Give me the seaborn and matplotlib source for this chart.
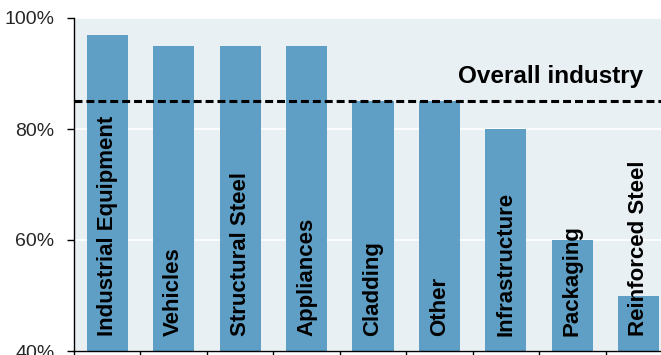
import numpy as np
import pandas as pd
import matplotlib
matplotlib.use('Agg')
import matplotlib.pyplot as plt
import seaborn as sns

# Daten
kategorien = ['Industrial Equipment', 'Vehicles', 'Structural Steel', 'Appliances',
              'Cladding', 'Other', 'Infrastructure', 'Packaging', 'Reinforced Steel']
werte = [97, 95, 95, 95, 85, 85, 80, 60, 50]
gesamt_industrie = 85
y_ticks = [40, 60, 80, 100]
y_tick_labels = ['40%', '60%', '80%', '100%']

df = pd.DataFrame({'Kategorie': kategorien, 'Wert': werte})

# ------------------------------------------

sns.set_style('white')
plt.rcParams['font.family'] = ['Liberation Sans', 'DejaVu Sans']

fig = plt.figure(figsize=(6.61, 3.55), dpi=100)
ax = fig.add_axes([74 / 661, 4 / 355, 598 / 661, 333 / 355])
ax.set_facecolor('#E8F0F4')

sns.barplot(data=df, x='Kategorie', y='Wert', color='#5F9FC5', saturation=1,
            width=0.62, edgecolor='none', ax=ax)

# Gitterlinien
ax.set_yticks(y_ticks)
ax.set_yticklabels(y_tick_labels, fontsize=14)
ax.yaxis.grid(True, color='white', linewidth=1.2)
ax.set_axisbelow(True)
ax.set_ylim(40, 100)
ax.set_xlim(-0.5, len(kategorien) - 0.5)

# Ticks an den Kategoriegrenzen
ax.set_xticks(np.arange(len(kategorien) + 1) - 0.5)
ax.set_xticklabels([])
ax.tick_params(axis='both', direction='out', length=5, width=1, color='black',
               left=True, bottom=True)
ax.tick_params(axis='y', pad=9)
ax.set_xlabel('')
ax.set_ylabel('')

for s in ['top', 'right']:
    ax.spines[s].set_visible(False)
for s in ['left', 'bottom']:
    ax.spines[s].set_color('black')
    ax.spines[s].set_linewidth(1)

# Beschriftungen in den Balken
for i, name in enumerate(kategorien):
    ax.text(i, 42.7, name, rotation=90, ha='center', va='bottom',
            fontsize=16, fontweight='bold', color='black')

# Gesamtindustrie-Linie
ax.axhline(gesamt_industrie, color='black', linewidth=2.2, linestyle=(0, (2.6, 1.3)))
ax.text(6.67, 88.3, 'Overall industry', ha='center', va='baseline',
        fontsize=17.5, fontweight='bold', color='black')

plt.savefig('out.png', dpi=100)
